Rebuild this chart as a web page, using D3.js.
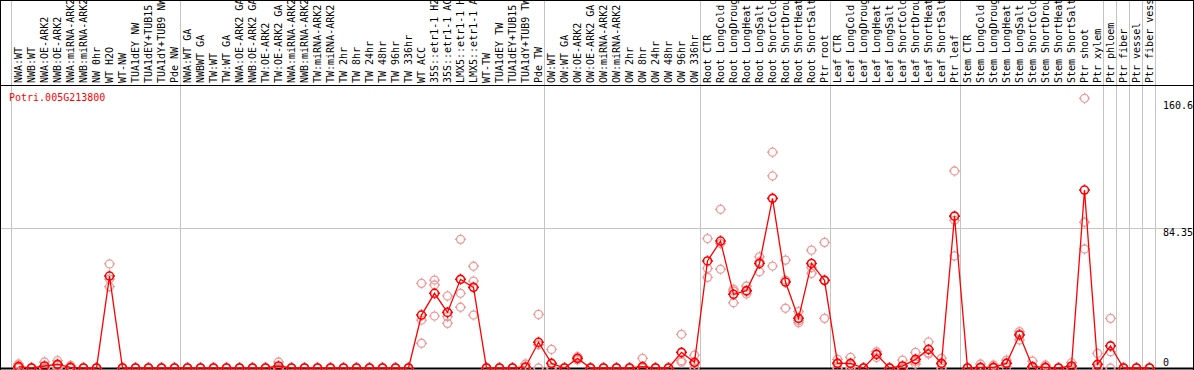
<!DOCTYPE html>
<html lang="en">
<head>
  <meta charset="UTF-8">
  <title>Potri.005G213800</title>
  <style>
    body, html { margin: 0; padding: 0; background: #fff; }
    svg { display: block; }
  </style>
</head>
<body>
  <svg id="svg" width="1194" height="370"></svg>
  <script src="https://d3js.org/d3.v7.min.js"></script>
  <script>
    const geneName = 'Potri.005G213800'

    const labels = [
      'NWA:WT', 'NWB:WT', 'NWA:OE-ARK2', 'NWB:OE-ARK2', 'NWA:miRNA-ARK2', 'NWB:miRNA-ARK2',
      'NW 0hr', 'WT H2O', 'WT-NW', 'TUA1dEY NW', 'TUA1dEY+TUB15', 'TUA1dY+TUB9 NW', 'Pde NW',
      'NWA:WT GA', 'NWBWT GA', 'TW:WT', 'TW:WT GA', 'NWA:OE-ARK2 GA', 'NWB:OE-ARK2 GA',
      'TW:OE-ARK2', 'TW:OE-ARK2 GA', 'NWA:miRNA-ARK2', 'NWB:miRNA-ARK2', 'TW:miRNA-ARK2',
      'TW:miRNA-ARK2', 'TW 2hr', 'TW 8hr', 'TW 24hr', 'TW 48hr', 'TW 96hr', 'TW 336hr',
      'WT ACC', '35S::etr1-1 H2', '35S::etr1-1 AC', 'LMX5::etr1-1 H', 'LMX5::etr1-1 A',
      'WT-TW', 'TUA1dEY TW', 'TUA1dEY+TUB15', 'TUA1dY+TUB9 TW', 'Pde TW',
      'OW:WT', 'OW:WT GA', 'OW:OE-ARK2', 'OW:OE-ARK2 GA', 'OW:miRNA-ARK2', 'OW:miRNA-ARK2',
      'OW 2hr', 'OW 8hr', 'OW 24hr', 'OW 48hr', 'OW 96hr', 'OW 336hr',
      'Root CTR', 'Root LongCold', 'Root LongDroug', 'Root LongHeat', 'Root LongSalt',
      'Root ShortCold', 'Root ShortDrou', 'Root ShortHeat', 'Root ShortSalt', 'Ptr root',
      'Leaf CTR', 'Leaf LongCold', 'Leaf LongDroug', 'Leaf LongHeat', 'Leaf LongSalt',
      'Leaf ShortCold', 'Leaf ShortDrou', 'Leaf ShortHeat', 'Leaf ShortSalt', 'Ptr leaf',
      'Stem CTR', 'Stem LongCold', 'Stem LongDroug', 'Stem LongHeat', 'Stem LongSalt',
      'Stem ShortCold', 'Stem ShortDrou', 'Stem ShortHeat', 'Stem ShortSalt', 'Ptr shoot',
      'Ptr xylem', 'Ptr phloem', 'Ptr fiber', 'Ptr vessel', 'Ptr fiber vessel'
    ]

    // number of columns in each separated group
    const groupSizes = [13, 28, 12, 10, 10, 11, 1, 1, 1, 1]

    const means = [
      0.8, 0, 1.2, 2.2, 0.4, 0, 0, 55.4, 0, 0, 0, 0, 0,
      0, 0, 0, 0, 0, 0, 0, 1.2, 0, 0, 0, 0, 0, 0, 0, 0, 0, 0,
      31.9, 45, 33.5, 53.4, 48.6, 0, 0, 0, 0.6, 15.5,
      2.8, 0, 5.8, 0, 0, 0, 0, 0.8, 0, 0, 9.4, 3.4,
      64.5, 76.5, 44.4, 46.6, 63, 102.2, 51.8, 29.9, 63, 52.8,
      2.8, 2.8, 0, 8.2, 0, 1.2, 5.2, 11.2, 2.8, 91.5,
      0, 0.4, 0.4, 2.8, 19.9, 0.8, 0.4, 0, 1.2, 107.2, 2.2,
      13.3, 0, 0, 0
    ]

    const reps = [
      [1.5, 2.4, 0], [0, 0, 0], [3.6, 0, 0], [4.4, 1.5, 0], [1.5, 0, 0], [0, 0, 0],
      [0, 0, 0], [62.7, 53.6, 49], [0, 0, 0], [0, 0, 0], [0, 0, 0], [0, 0, 0], [0, 0, 0],
      [0, 0, 0], [0, 0, 0], [0, 0, 0], [0, 0, 0], [0, 0, 0], [0, 0, 0], [0, 0, 0],
      [3.6, 0, 0], [0, 0, 0], [0, 0, 0], [0, 0, 0], [0, 0, 0], [0, 0, 0], [0, 0, 0],
      [0, 0, 0], [0, 0, 0], [0, 0, 0], [0, 0, 0],
      [51, 28.9, 14.9], [53, 50, 31.3], [43.4, 30.9, 26.9], [77.5, 45, 36.6], [61.3, 52.4, 31.9],
      [0, 0, 0], [0, 0, 0], [0, 0, 0], [2.4, 0, 0], [32.3, 14, 0],
      [11.2, 0, 0], [0, 0, 0], [6.8, 5.8, 4.8], [0, 0, 0], [0, 0, 0], [0, 0, 0], [0, 0, 0],
      [5.8, 0, 0], [0, 0, 0], [0, 0, 0], [20.3, 4.4, 3.5], [7.8, 2.4, 0],
      [78, 60, 54.6], [95.6, 75, 59.5], [46.4, 47.5, 39.3], [49.4, 46, 44.6], [67, 64, 58],
      [130, 115.7, 61.4], [65, 53, 36], [34, 28.5, 27.3], [71, 60.5, 57], [75.7, 52.8, 29.9],
      [5.2, 3, 0], [6.4, 2, 0], [0, 0, 0], [9.8, 8.5, 6.3], [0, 0, 0], [4.8, 0, 0],
      [9.4, 4, 2.4], [15.7, 9.2, 8.5], [5.8, 2.4, 0], [118.7, 89, 67.5],
      [0, 0, 0], [2.4, 0, 0], [1.8, 0, 0], [4.8, 3, 0.6], [21.9, 20.5, 16.9], [4.2, 0, 0],
      [1.8, 0, 0], [0, 0, 0], [3.2, 0.5, 0], [162.5, 87.8, 71.7], [8.8, 0, 0],
      [29.9, 9.8, 0], [0, 0, 0], [0, 0, 0], [0, 0, 0]
    ]

    const yTicks = [0, 84.35, 160.6]

    const width = 1194
    const height = 370
    const headerH = 85
    const plotLeft = 12
    const plotRight = 1156
    const plotBottom = 368

    const svg = d3.select('#svg')

    const x = d3.scaleBand()
      .domain(d3.range(labels.length))
      .range([plotLeft, plotRight])
      .padding(0)

    const y = d3.scaleLinear()
      .domain([0, 170.5])
      .range([plotBottom, headerH])

    const cx = i => x(i) + x.bandwidth() / 2

    // group separator lines (full height, grey)
    const bounds = [0]
    groupSizes.forEach(s => bounds.push(bounds[bounds.length - 1] + s))
    svg.append('g')
      .selectAll('line')
      .data(bounds)
      .join('line')
      .attr('x1', d => Math.round(x(d) ?? plotRight) - 0.5)
      .attr('x2', d => Math.round(x(d) ?? plotRight) - 0.5)
      .attr('y1', 0)
      .attr('y2', height)
      .attr('stroke', '#c4c4c4')
      .attr('stroke-width', 1)

    // horizontal gridline at the middle tick
    svg.append('line')
      .attr('x1', 0).attr('x2', width)
      .attr('y1', Math.round(y(yTicks[1])) + 0.5)
      .attr('y2', Math.round(y(yTicks[1])) + 0.5)
      .attr('stroke', '#c4c4c4')

    // frame
    svg.append('rect')
      .attr('x', 0.5).attr('y', 0.5)
      .attr('width', width - 1).attr('height', height + 5)
      .attr('fill', 'none')
      .attr('stroke', 'black')
    svg.append('line')
      .attr('x1', 0).attr('x2', width)
      .attr('y1', headerH + 0.5).attr('y2', headerH + 0.5)
      .attr('stroke', 'black')
    svg.append('line')
      .attr('x1', 0).attr('x2', width)
      .attr('y1', plotBottom + 0.5).attr('y2', plotBottom + 0.5)
      .attr('stroke', 'black')
      .attr('stroke-width', 2)

    // column labels, vertical
    svg.append('g')
      .selectAll('text')
      .data(labels)
      .join('text')
      .attr('transform', (d, i) => `translate(${cx(i) + 3.5}, 83) rotate(-90)`)
      .attr('font-family', 'DejaVu Sans Mono')
      .attr('font-size', 10)
      .attr('fill', 'black')
      .text(d => d)

    // gene title
    svg.append('text')
      .attr('x', 9).attr('y', 101)
      .attr('font-family', 'DejaVu Sans Mono')
      .attr('font-size', 10)
      .attr('fill', 'red')
      .text(geneName)

    // right axis labels
    svg.append('g')
      .selectAll('text')
      .data(yTicks)
      .join('text')
      .attr('x', 1163)
      .attr('y', d => d === 0 ? 366 : y(d) + 8)
      .attr('font-family', 'DejaVu Sans Mono')
      .attr('font-size', 10)
      .attr('fill', 'black')
      .text(d => d)

    // marker: circle with four little ticks
    const marker = r => `M${-r},0a${r},${r} 0 1,0 ${2 * r},0a${r},${r} 0 1,0 ${-2 * r},0` +
      `M0,${-r - 1.5}v1.5M0,${r}v1.5M${-r - 1.5},0h1.5M${r},0h1.5`

    const repPts = []
    reps.forEach((arr, i) => arr.forEach(v => repPts.push({ i, v })))

    svg.append('g')
      .selectAll('path')
      .data(repPts)
      .join('path')
      .attr('d', marker(4))
      .attr('transform', d => `translate(${cx(d.i)}, ${y(d.v)})`)
      .attr('fill', 'none')
      .attr('stroke', '#ee9a9a')
      .attr('stroke-width', 1.3)

    const line = d3.line()
      .x((d, i) => cx(i))
      .y(d => y(d))

    svg.append('path')
      .datum(means)
      .attr('d', line)
      .attr('fill', 'none')
      .attr('stroke', 'red')
      .attr('stroke-width', 1.3)

    svg.append('g')
      .selectAll('path')
      .data(means)
      .join('path')
      .attr('d', marker(4))
      .attr('transform', (d, i) => `translate(${cx(i)}, ${y(d)})`)
      .attr('fill', 'none')
      .attr('stroke', 'red')
      .attr('stroke-width', 1.6)
  </script>
</body>
</html>
